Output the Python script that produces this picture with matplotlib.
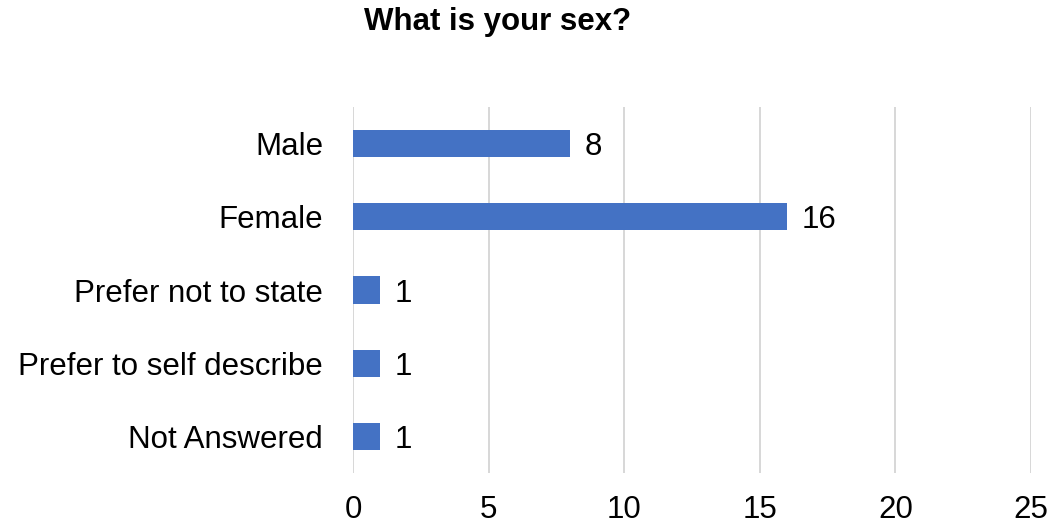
import matplotlib
matplotlib.use("Agg")
import matplotlib.pyplot as plt

# survey responses
categories = ["Male", "Female", "Prefer not to state", "Prefer to self describe", "Not Answered"]
counts = [8, 16, 1, 1, 1]
xticks = [0, 5, 10, 15, 20, 25]

plt.rcParams["font.family"] = ["Liberation Sans", "DejaVu Sans"]
fs = 22.5

fig = plt.figure(figsize=(10.51, 5.26), dpi=100)
ax = fig.add_axes([353 / 1051, 1 - 473 / 526, (1031 - 353) / 1051, (473 - 107) / 526])

pos = list(range(len(categories)))
bars = ax.barh(pos, counts, height=0.37, color="#4472C4", zorder=3)
for b, v in zip(bars, counts):
    ax.text(b.get_width() + 0.55, b.get_y() + b.get_height() / 2, str(v),
            va="center_baseline", ha="left", fontsize=fs, color="black")

ax.set_yticks(pos)
ax.set_yticklabels(categories, fontsize=fs)
ax.set_ylim(len(categories) - 0.5, -0.5)
ax.set_xlim(0, 25)
ax.set_xticks(xticks)
ax.set_xticklabels([str(t) for t in xticks], fontsize=fs)
ax.tick_params(axis="both", length=0)
ax.tick_params(axis="x", pad=16)
ax.tick_params(axis="y", pad=21.5)
ax.grid(axis="x", color="#d4d4d4", linewidth=1.3, zorder=0)
for s in ax.spines.values():
    s.set_visible(False)

fig.text(498 / 1051, 1 - 22 / 526, "What is your sex?", ha="center", va="center",
         fontsize=fs, fontweight="bold")

fig.savefig("out.png", dpi=100)
